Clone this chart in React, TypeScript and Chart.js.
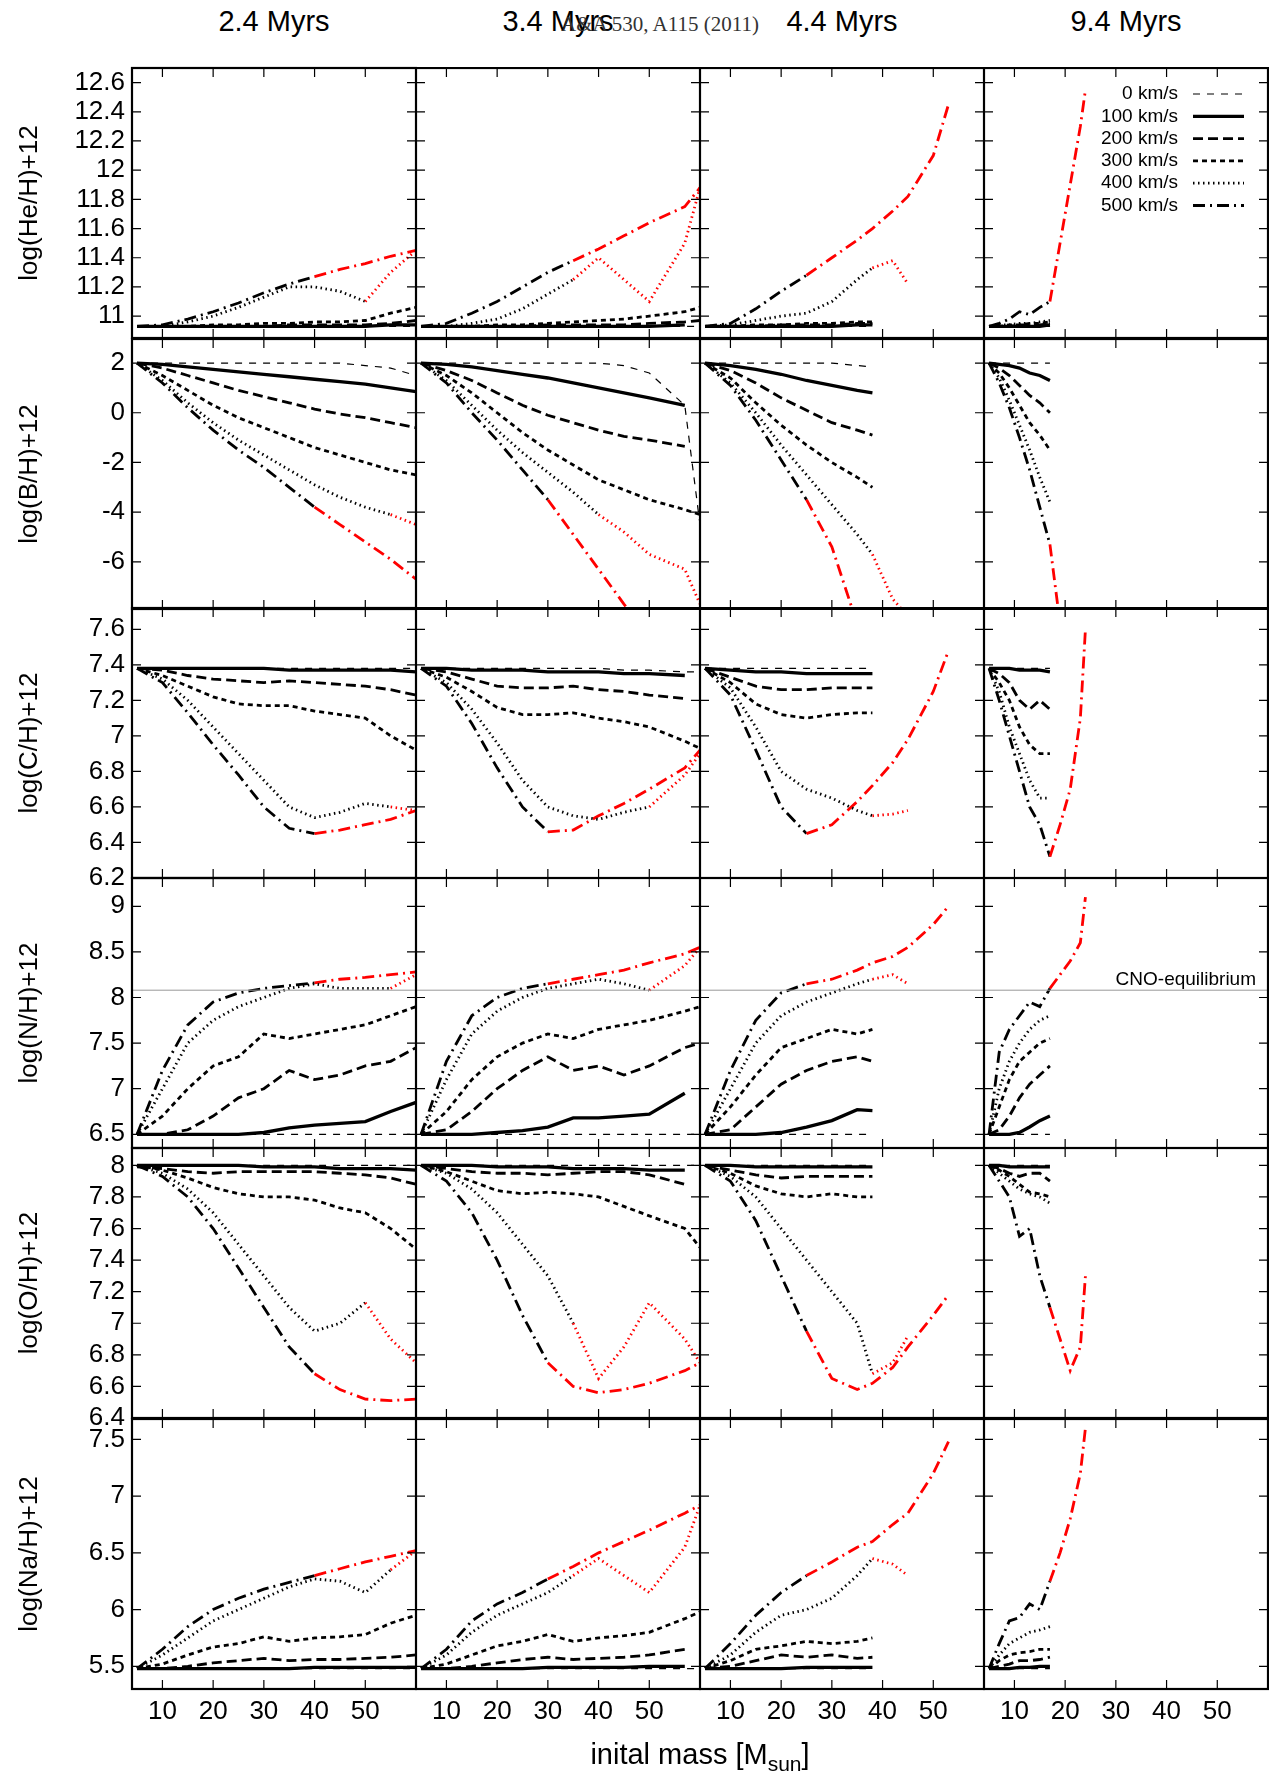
import { useEffect, useRef } from 'react';
import { Chart, registerables } from 'chart.js';

Chart.register(...registerables);

const columnTitles = ['2.4 Myrs', '3.4 Myrs', '4.4 Myrs', '9.4 Myrs'];
const rowLabels = ['log(He/H)+12', 'log(B/H)+12', 'log(C/H)+12', 'log(N/H)+12', 'log(O/H)+12', 'log(Na/H)+12'];
const rowMin = [10.85, -7.9, 6.2, 6.35, 6.4, 5.3];
const rowMax = [12.7, 2.97, 7.72, 9.31, 8.11, 7.68];
const rowTicks = [
  [11, 11.2, 11.4, 11.6, 11.8, 12, 12.2, 12.4, 12.6],
  [-6, -4, -2, 0, 2],
  [6.2, 6.4, 6.6, 6.8, 7, 7.2, 7.4, 7.6],
  [6.5, 7, 7.5, 8, 8.5, 9],
  [6.4, 6.6, 6.8, 7, 7.2, 7.4, 7.6, 7.8, 8],
  [5.5, 6, 6.5, 7, 7.5],
];
const xTicks = [10, 20, 30, 40, 50];
const velocities = ['0 km/s', '100 km/s', '200 km/s', '300 km/s', '400 km/s', '500 km/s'];
const cnoEquilibrium = 8.08;

// initial masses sampled per age column
const massGrids = [
  [5, 10, 15, 20, 25, 30, 35, 40, 45, 50, 55, 60],
  [5, 10, 15, 20, 25, 30, 35, 40, 45, 50, 57, 60],
  [5, 10, 15, 20, 25, 30, 35, 38, 42, 45, 50, 53],
  [5, 7, 9, 11, 13, 15, 17, 19, 21, 23, 24],
];

// [column][velocity] -> values
const heData = [
  [
    [10.93, 10.93, 10.93, 10.93, 10.93, 10.93, 10.93, 10.93, 10.93, 10.93, 10.93, 10.93],
    [10.93, 10.93, 10.93, 10.93, 10.93, 10.93, 10.93, 10.93, 10.93, 10.93, 10.94, 10.94],
    [10.93, 10.93, 10.93, 10.93, 10.93, 10.93, 10.94, 10.94, 10.94, 10.94, 10.95, 10.97],
    [10.93, 10.93, 10.93, 10.94, 10.94, 10.95, 10.95, 10.96, 10.96, 10.97, 11.02, 11.06],
    [10.93, 10.93, 10.96, 11.0, 11.06, 11.13, 11.2, 11.2, 11.17, 11.1, 11.3, 11.45],
    [10.93, 10.94, 10.98, 11.03, 11.09, 11.16, 11.22, 11.27, 11.32, 11.36, 11.41, 11.45],
  ],
  [
    [10.93, 10.93, 10.93, 10.93, 10.93, 10.93, 10.93, 10.93, 10.93, 10.93, 10.93, 10.93],
    [10.93, 10.93, 10.93, 10.93, 10.93, 10.93, 10.93, 10.93, 10.93, 10.93, 10.94],
    [10.93, 10.93, 10.93, 10.93, 10.93, 10.94, 10.94, 10.94, 10.94, 10.95, 10.96, 10.97],
    [10.93, 10.93, 10.93, 10.94, 10.94, 10.95, 10.96, 10.97, 10.98, 11.0, 11.03, 11.06],
    [10.93, 10.93, 10.95, 10.98, 11.05, 11.15, 11.25, 11.4, 11.25, 11.1, 11.5, 11.88],
    [10.93, 10.95, 11.02, 11.1, 11.2, 11.3, 11.38, 11.46, 11.55, 11.64, 11.75, 11.88],
  ],
  [
    [10.93, 10.93, 10.93, 10.93, 10.93, 10.93, 10.93, 10.93],
    [10.93, 10.93, 10.93, 10.93, 10.93, 10.93, 10.94, 10.94],
    [10.93, 10.93, 10.93, 10.94, 10.94, 10.94, 10.95, 10.95],
    [10.93, 10.93, 10.94, 10.94, 10.95, 10.95, 10.96, 10.96],
    [10.93, 10.94, 10.97, 11.0, 11.02, 11.1, 11.25, 11.33, 11.38, 11.22],
    [10.93, 10.95, 11.05, 11.17, 11.28, 11.4, 11.52, 11.6, 11.72, 11.82, 12.1, 12.45],
  ],
  [
    [10.93, 10.93, 10.93, 10.93, 10.93, 10.93, 10.93],
    [10.93, 10.93, 10.93, 10.93, 10.93, 10.93, 10.94],
    [10.93, 10.93, 10.93, 10.94, 10.94, 10.94, 10.95],
    [10.93, 10.93, 10.94, 10.94, 10.95, 10.95, 10.96],
    [10.93, 10.94, 10.94, 10.95, 10.95, 10.96, 10.97],
    [10.93, 10.95, 10.98, 11.03, 11.01, 11.06, 11.1, 11.5, 11.9, 12.3, 12.55],
  ],
];

const bData = [
  [
    [2, 2, 2, 2, 2, 2, 2, 2, 2, 1.9, 1.8, 1.5],
    [2, 1.95, 1.85, 1.75, 1.65, 1.55, 1.45, 1.35, 1.25, 1.15, 1.0, 0.85],
    [2, 1.8, 1.5, 1.2, 0.9, 0.65, 0.4, 0.15, -0.05, -0.2, -0.4, -0.6],
    [2, 1.5, 0.9, 0.3, -0.2, -0.6, -1.0, -1.4, -1.7, -2.0, -2.3, -2.5],
    [2, 1.3, 0.4, -0.4, -1.1, -1.7, -2.3, -2.9, -3.4, -3.8, -4.1, -4.5],
    [2, 1.2, 0.2, -0.7, -1.5, -2.2, -3.0, -3.8, -4.5, -5.2, -5.9, -6.7],
  ],
  [
    [2, 2, 2, 2, 2, 2, 2, 2, 1.9, 1.6, 0.3, -4.5],
    [2, 1.95, 1.85, 1.7, 1.55, 1.4, 1.2, 1.0, 0.8, 0.6, 0.3],
    [2, 1.7, 1.3, 0.8, 0.3, -0.1, -0.4, -0.7, -0.95, -1.1, -1.35],
    [2, 1.5, 0.8, 0.0, -0.8, -1.5, -2.1, -2.7, -3.1, -3.5, -3.9, -4.1],
    [2, 1.3, 0.3, -0.7, -1.6, -2.4, -3.2, -4.1, -4.8, -5.7, -6.3, -7.7],
    [2, 1.2, 0.0, -1.1, -2.3, -3.5, -4.9, -6.3, -7.7, -9.0],
  ],
  [
    [2, 2, 2, 2, 2, 2, 1.9, 1.85],
    [2, 1.9, 1.75, 1.55, 1.3, 1.1, 0.9, 0.8],
    [2, 1.7, 1.2, 0.6, 0.1, -0.4, -0.7, -0.9],
    [2, 1.4, 0.4, -0.5, -1.3, -2.0, -2.6, -3.0],
    [2, 1.2, 0.0, -1.3, -2.5, -3.7, -4.9, -5.7, -7.5, -8.2],
    [2, 1.1, -0.3, -1.9, -3.5, -5.4, -8.5],
  ],
  [
    [2, 2, 2, 2, 2, 2, 2],
    [2, 1.95, 1.9, 1.8, 1.6, 1.5, 1.3],
    [2, 1.8, 1.5, 1.1, 0.7, 0.4, 0.0],
    [2, 1.6, 1.0, 0.3, -0.4, -0.9, -1.5],
    [2, 1.4, 0.5, -0.5, -1.5, -2.6, -3.6],
    [2, 1.2, 0.2, -1.0, -2.3, -3.8, -5.3, -8.5],
  ],
];

const cData = [
  [
    [7.38, 7.38, 7.38, 7.38, 7.38, 7.38, 7.38, 7.38, 7.38, 7.38, 7.38, 7.38],
    [7.38, 7.38, 7.38, 7.38, 7.38, 7.38, 7.37, 7.37, 7.37, 7.37, 7.37, 7.36],
    [7.38, 7.37, 7.34, 7.32, 7.31, 7.3, 7.31, 7.3, 7.29, 7.28, 7.26, 7.23],
    [7.38, 7.34, 7.28, 7.22, 7.18, 7.17, 7.17, 7.14, 7.12, 7.1, 7.0, 6.92],
    [7.38, 7.32, 7.2, 7.05, 6.9, 6.75, 6.6, 6.54, 6.57, 6.62, 6.6, 6.58],
    [7.38, 7.3, 7.13, 6.95, 6.78, 6.6, 6.48, 6.45, 6.47, 6.5, 6.53, 6.58],
  ],
  [
    [7.38, 7.38, 7.38, 7.38, 7.38, 7.38, 7.38, 7.38, 7.37, 7.37, 7.36, 7.36],
    [7.38, 7.38, 7.37, 7.37, 7.37, 7.36, 7.36, 7.36, 7.35, 7.35, 7.34],
    [7.38, 7.36, 7.32, 7.28, 7.27, 7.27, 7.28, 7.26, 7.25, 7.23, 7.21],
    [7.38, 7.33, 7.25, 7.16, 7.12, 7.12, 7.13, 7.1, 7.08, 7.05, 6.97, 6.93],
    [7.38, 7.3, 7.15, 6.96, 6.75, 6.6, 6.55, 6.53, 6.57, 6.6, 6.78, 6.9],
    [7.38, 7.28, 7.07, 6.82, 6.6, 6.46, 6.47, 6.55, 6.62, 6.7, 6.82, 6.92],
  ],
  [
    [7.38, 7.38, 7.38, 7.38, 7.38, 7.38, 7.38, 7.38],
    [7.38, 7.37, 7.36, 7.36, 7.35, 7.35, 7.35, 7.35],
    [7.38, 7.33, 7.28, 7.26, 7.26, 7.27, 7.27, 7.27],
    [7.38, 7.3, 7.18, 7.12, 7.1, 7.12, 7.13, 7.13],
    [7.38, 7.27, 7.05, 6.8, 6.7, 6.65, 6.58, 6.55, 6.56, 6.58],
    [7.38, 7.23, 6.92, 6.6, 6.45, 6.5, 6.63, 6.72, 6.85, 6.98, 7.25, 7.48],
  ],
  [
    [7.38, 7.38, 7.38, 7.38, 7.38, 7.38, 7.38],
    [7.38, 7.38, 7.38, 7.37, 7.37, 7.37, 7.36],
    [7.38, 7.35, 7.3, 7.2, 7.15, 7.2, 7.15],
    [7.38, 7.3, 7.2, 7.05, 6.95, 6.9, 6.9],
    [7.38, 7.25, 7.05, 6.9, 6.75, 6.65, 6.65],
    [7.38, 7.2, 7.0, 6.8, 6.6, 6.5, 6.32, 6.5, 6.7, 7.1, 7.6],
  ],
];

const nData = [
  [
    [6.5, 6.5, 6.5, 6.5, 6.5, 6.5, 6.5, 6.5, 6.5, 6.5, 6.5, 6.5],
    [6.5, 6.5, 6.5, 6.5, 6.5, 6.52, 6.57, 6.6, 6.62, 6.64, 6.75, 6.85],
    [6.5, 6.5, 6.55, 6.7, 6.9, 7.0, 7.2, 7.1, 7.15, 7.25, 7.3, 7.45],
    [6.5, 6.7, 7.0, 7.25, 7.35, 7.6, 7.55, 7.6, 7.65, 7.7, 7.8, 7.9],
    [6.5, 7.0, 7.5, 7.75, 7.9, 8.0, 8.1, 8.15, 8.1, 8.1, 8.1, 8.25],
    [6.5, 7.2, 7.7, 7.95, 8.05, 8.1, 8.13, 8.16, 8.2, 8.22, 8.25, 8.28],
  ],
  [
    [6.5, 6.5, 6.5, 6.5, 6.5, 6.5, 6.5, 6.5, 6.5, 6.5, 6.5, 6.5],
    [6.5, 6.5, 6.5, 6.52, 6.54, 6.58, 6.68, 6.68, 6.7, 6.72, 6.95],
    [6.5, 6.55, 6.75, 7.0, 7.2, 7.35, 7.2, 7.25, 7.15, 7.25, 7.45, 7.5],
    [6.5, 6.75, 7.1, 7.35, 7.5, 7.6, 7.55, 7.65, 7.7, 7.75, 7.85, 7.9],
    [6.5, 7.1, 7.6, 7.85, 8.0, 8.1, 8.15, 8.2, 8.15, 8.08, 8.35, 8.55],
    [6.5, 7.3, 7.8, 8.0, 8.1, 8.15, 8.2, 8.25, 8.3, 8.38, 8.48, 8.55],
  ],
  [
    [6.5, 6.5, 6.5, 6.5, 6.5, 6.5, 6.5, 6.5],
    [6.5, 6.5, 6.5, 6.52, 6.58, 6.65, 6.77, 6.76],
    [6.5, 6.55, 6.8, 7.05, 7.2, 7.3, 7.35, 7.3],
    [6.5, 6.8, 7.15, 7.45, 7.55, 7.65, 7.6, 7.65],
    [6.5, 7.0, 7.5, 7.8, 7.95, 8.05, 8.15, 8.2, 8.25, 8.15],
    [6.5, 7.2, 7.75, 8.05, 8.15, 8.2, 8.3, 8.38, 8.45, 8.55, 8.8, 9.0],
  ],
  [
    [6.5, 6.5, 6.5, 6.5, 6.5, 6.5, 6.5],
    [6.5, 6.5, 6.5, 6.52, 6.58, 6.65, 6.7],
    [6.5, 6.55, 6.7, 6.9, 7.05, 7.15, 7.25],
    [6.5, 6.8, 7.1, 7.3, 7.4, 7.5, 7.55],
    [6.5, 7.0, 7.3, 7.5, 7.65, 7.75, 7.8],
    [6.5, 7.4, 7.65, 7.8, 7.95, 7.9, 8.1, 8.25, 8.4, 8.6, 9.1],
  ],
];

const oData = [
  [
    [8.0, 8.0, 8.0, 8.0, 8.0, 8.0, 8.0, 8.0, 8.0, 8.0, 8.0, 8.0],
    [8.0, 8.0, 8.0, 8.0, 8.0, 7.99, 7.99, 7.99, 7.98, 7.98, 7.98, 7.97],
    [7.99, 7.98, 7.96, 7.95, 7.96, 7.96, 7.96, 7.96, 7.95, 7.94, 7.92, 7.88],
    [8.0, 7.97, 7.92, 7.86, 7.82, 7.8, 7.8, 7.78, 7.73, 7.7, 7.6, 7.47],
    [8.0, 7.95, 7.85, 7.7, 7.5, 7.3, 7.1, 6.95, 7.0, 7.13, 6.9, 6.75],
    [8.0, 7.93, 7.8, 7.6, 7.35, 7.1, 6.85, 6.68, 6.58, 6.52, 6.51, 6.52],
  ],
  [
    [8.0, 8.0, 8.0, 8.0, 8.0, 8.0, 8.0, 8.0, 8.0, 8.0, 8.0, 8.0],
    [8.0, 8.0, 8.0, 7.99, 7.99, 7.99, 7.98, 7.98, 7.98, 7.97, 7.97],
    [8.0, 7.98, 7.96, 7.95, 7.95, 7.94, 7.95, 7.96, 7.96, 7.94, 7.88],
    [8.0, 7.96, 7.9, 7.84, 7.82, 7.83, 7.82, 7.8, 7.74, 7.68, 7.6, 7.48],
    [8.0, 7.95, 7.85, 7.7, 7.5, 7.3, 7.0, 6.65, 6.85, 7.13, 6.9, 6.75],
    [8.0, 7.9, 7.7, 7.4, 7.05, 6.75, 6.6, 6.56, 6.58, 6.62, 6.7, 6.75],
  ],
  [
    [8.0, 8.0, 8.0, 8.0, 8.0, 8.0, 8.0, 8.0],
    [8.0, 8.0, 7.99, 7.99, 7.99, 7.99, 7.99, 7.99],
    [8.0, 7.97, 7.94, 7.92, 7.93, 7.93, 7.93, 7.93],
    [8.0, 7.95, 7.87, 7.82, 7.8, 7.82, 7.8, 7.8],
    [8.0, 7.93, 7.8, 7.6, 7.4, 7.2, 7.0, 6.68, 6.75, 6.92],
    [8.0, 7.9, 7.65, 7.3, 6.95, 6.65, 6.58, 6.62, 6.72, 6.85, 7.05, 7.18],
  ],
  [
    [8.0, 8.0, 8.0, 8.0, 8.0, 8.0, 8.0],
    [8.0, 8.0, 7.99, 7.99, 7.99, 7.99, 7.99],
    [8.0, 7.98, 7.95, 7.93, 7.95, 7.95, 7.9],
    [8.0, 7.97, 7.93, 7.88, 7.83, 7.82, 7.8],
    [8.0, 7.95, 7.9, 7.85, 7.82, 7.8, 7.76],
    [8.0, 7.9, 7.8, 7.55, 7.6, 7.3, 7.1, 6.9, 6.7, 6.85, 7.3],
  ],
];

const naData = [
  [
    [5.48, 5.48, 5.48, 5.48, 5.48, 5.48, 5.48, 5.48, 5.48, 5.48, 5.48, 5.48],
    [5.48, 5.48, 5.48, 5.48, 5.48, 5.48, 5.48, 5.49, 5.49, 5.49, 5.49, 5.49],
    [5.48, 5.48, 5.5, 5.53, 5.55, 5.57, 5.55, 5.56, 5.56, 5.57, 5.58, 5.6],
    [5.48, 5.52, 5.6, 5.67, 5.7, 5.76, 5.72, 5.75, 5.76, 5.78, 5.88, 5.95],
    [5.48, 5.6, 5.75, 5.9, 6.0, 6.1, 6.2, 6.27, 6.25, 6.15, 6.35, 6.52],
    [5.48, 5.65, 5.85, 6.0, 6.1, 6.18, 6.24, 6.3, 6.36, 6.42, 6.47, 6.52],
  ],
  [
    [5.48, 5.48, 5.48, 5.48, 5.48, 5.48, 5.48, 5.48, 5.48, 5.48, 5.48, 5.48],
    [5.48, 5.48, 5.48, 5.48, 5.48, 5.49, 5.49, 5.49, 5.49, 5.5, 5.5],
    [5.48, 5.48, 5.5, 5.53, 5.56, 5.58, 5.56, 5.57, 5.58, 5.6, 5.65],
    [5.48, 5.52, 5.6, 5.68, 5.72, 5.78, 5.72, 5.75, 5.77, 5.8, 5.92, 5.98],
    [5.48, 5.6, 5.8, 5.95, 6.05, 6.15, 6.3, 6.45, 6.3, 6.15, 6.55, 6.92],
    [5.48, 5.65, 5.9, 6.05, 6.15, 6.27, 6.38, 6.5, 6.6, 6.7, 6.85, 6.92],
  ],
  [
    [5.48, 5.48, 5.48, 5.48, 5.48, 5.48, 5.48, 5.48],
    [5.48, 5.48, 5.48, 5.48, 5.49, 5.49, 5.49, 5.49],
    [5.48, 5.5, 5.55, 5.6, 5.58, 5.6, 5.57, 5.58],
    [5.48, 5.55, 5.65, 5.68, 5.72, 5.7, 5.72, 5.75],
    [5.48, 5.6, 5.8, 5.95, 6.0, 6.1, 6.3, 6.45, 6.4, 6.3],
    [5.48, 5.7, 5.95, 6.15, 6.3, 6.42, 6.55, 6.6, 6.75, 6.85, 7.2, 7.48],
  ],
  [
    [5.48, 5.48, 5.48, 5.48, 5.48, 5.48, 5.48],
    [5.48, 5.48, 5.48, 5.49, 5.49, 5.5, 5.5],
    [5.48, 5.5, 5.52, 5.55, 5.55, 5.56, 5.58],
    [5.48, 5.55, 5.6, 5.62, 5.63, 5.65, 5.65],
    [5.48, 5.6, 5.7, 5.75, 5.8, 5.82, 5.85],
    [5.48, 5.7, 5.9, 5.93, 6.05, 6.0, 6.25, 6.5, 6.8, 7.2, 7.6],
  ],
];

const rowData = [heData, bData, cData, nData, oData, naData];

// mass from which the 400 / 500 km/s curves turn red, [row][column]
const redFrom400 = [
  [50, 35, 38, null], [55, 40, 38, null], [55, 50, 38, null],
  [55, 50, 38, null], [50, 35, 38, null], [55, 35, 38, null],
];
const redFrom500 = [
  [40, 35, 25, 17], [40, 30, 25, 17], [40, 30, 25, 17],
  [40, 30, 25, 17], [40, 30, 25, 17], [40, 30, 25, 17],
];

const lineStyles = [
  { width: 1.2, dash: [7, 7] },
  { width: 3.3, dash: [] },
  { width: 2.8, dash: [10, 5] },
  { width: 2.8, dash: [5, 4] },
  { width: 2.8, dash: [1.5, 3.5] },
  { width: 2.8, dash: [12, 5, 2, 5] },
];

const colLeft = [132, 416, 700, 984];
const rowTop = [68, 339, 608, 878, 1148, 1419];
const panelW = 284;
const panelH = 270;
const yAxisW = 125;
const xAxisH = 60;
const labelMargin = 16; // room above/below the first column for end tick labels
const FONT = '"Liberation Sans", Arial, sans-serif';

function Panel({ row, col }: { row: number; col: number }) {
  const canvasRef = useRef<HTMLCanvasElement>(null);
  const chartRef = useRef<Chart | null>(null);
  const first = col === 0;
  const bottom = row === 5;
  const padTop = 1 + (first ? labelMargin : 0);
  const padBottom = 1 + (bottom ? xAxisH : first ? labelMargin : 0);
  const w = panelW + (first ? yAxisW : 0) + 2;
  const h = panelH + padTop + padBottom;
  const left = colLeft[col] - (first ? yAxisW : 0) - 1;
  const top = rowTop[row] - padTop;

  useEffect(() => {
    if (!canvasRef.current) return;
    if (chartRef.current) chartRef.current.destroy();
    const grid = massGrids[col];
    const datasets: any[] = rowData[row][col].map((vals, v) => {
      const red = v === 4 ? redFrom400[row][col] : v === 5 ? redFrom500[row][col] : null;
      return {
        data: vals.map((y, i) => ({ x: grid[i], y })),
        borderColor: '#000',
        borderWidth: lineStyles[v].width,
        borderDash: lineStyles[v].dash,
        pointRadius: 0,
        tension: 0,
        segment: {
          borderColor: (c: any) => (red !== null && c.p0.parsed.x >= red - 0.01 ? '#ff0000' : '#000'),
        },
      };
    });
    if (row === 3) {
      datasets.unshift({
        data: [{ x: 0, y: cnoEquilibrium }, { x: 70, y: cnoEquilibrium }],
        borderColor: '#999',
        borderWidth: 1,
        pointRadius: 0,
      });
    }

    const decor = {
      id: 'decor',
      afterDatasetsDraw(chart: any) {
        const { ctx, chartArea: a } = chart;
        const xs = chart.scales.x;
        const ys = chart.scales.y;
        ctx.save();
        ctx.fillStyle = '#000';
        if (first) {
          ctx.font = `26px ${FONT}`;
          ctx.textAlign = 'right';
          ctx.textBaseline = 'middle';
          rowTicks[row].forEach((t) => ctx.fillText(String(t), a.left - 7, ys.getPixelForValue(t)));
          ctx.save();
          ctx.translate(24, (a.top + a.bottom) / 2);
          ctx.rotate(-Math.PI / 2);
          ctx.textAlign = 'center';
          ctx.fillText(rowLabels[row], 0, 0);
          ctx.restore();
        }
        if (bottom) {
          ctx.font = `26px ${FONT}`;
          ctx.textAlign = 'center';
          ctx.textBaseline = 'top';
          xTicks.forEach((t) => ctx.fillText(String(t), xs.getPixelForValue(t), a.bottom + 10));
        }
        if (row === 3 && col === 3) {
          ctx.font = `19px ${FONT}`;
          ctx.textAlign = 'right';
          ctx.textBaseline = 'bottom';
          ctx.fillText('CNO-equilibrium', a.right - 12, ys.getPixelForValue(cnoEquilibrium) - 1);
        }
        if (row === 0 && col === 3) {
          ctx.font = `19px ${FONT}`;
          ctx.textAlign = 'right';
          ctx.textBaseline = 'middle';
          velocities.forEach((label, i) => {
            const y = a.top + 26 + i * 22.3;
            ctx.fillText(label, a.left + 194, y);
            ctx.strokeStyle = '#000';
            ctx.lineWidth = lineStyles[i].width;
            ctx.setLineDash(lineStyles[i].dash);
            ctx.beginPath();
            ctx.moveTo(a.left + 209, y);
            ctx.lineTo(a.left + 260, y);
            ctx.stroke();
          });
          ctx.setLineDash([]);
        }
        // inward tick marks
        ctx.strokeStyle = '#000';
        ctx.lineWidth = 1.2;
        ctx.beginPath();
        rowTicks[row].forEach((t) => {
          const y = ys.getPixelForValue(t);
          ctx.moveTo(a.left, y); ctx.lineTo(a.left + 9, y);
          ctx.moveTo(a.right, y); ctx.lineTo(a.right - 9, y);
        });
        xTicks.forEach((t) => {
          const x = xs.getPixelForValue(t);
          ctx.moveTo(x, a.bottom); ctx.lineTo(x, a.bottom - 9);
          ctx.moveTo(x, a.top); ctx.lineTo(x, a.top + 9);
        });
        ctx.stroke();
        ctx.lineWidth = 2.2;
        ctx.strokeRect(a.left, a.top, a.right - a.left, a.bottom - a.top);
        ctx.restore();
      },
    };

    chartRef.current = new Chart(canvasRef.current, {
      type: 'line',
      data: { datasets },
      options: {
        animation: false,
        responsive: false,
        layout: {
          padding: { left: 1 + (first ? yAxisW : 0), right: 1, top: padTop, bottom: padBottom },
        },
        plugins: { legend: { display: false }, tooltip: { enabled: false } },
        scales: {
          x: { type: 'linear', min: 4, max: 60, display: false },
          y: { type: 'linear', min: rowMin[row], max: rowMax[row], display: false },
        },
      },
      plugins: [decor],
    });

    return () => {
      if (chartRef.current) chartRef.current.destroy();
      chartRef.current = null;
    };
  }, [row, col]);

  return (
    <canvas
      ref={canvasRef}
      width={w}
      height={h}
      style={{ position: 'absolute', left, top, width: w, height: h }}
    />
  );
}

export default function App() {
  const panels = [];
  for (let r = 0; r < 6; r++) for (let c = 0; c < 4; c++) panels.push(<Panel key={`${r}-${c}`} row={r} col={c} />);
  return (
    <div style={{ position: 'absolute', left: 0, top: 0, width: 1271, height: 1787, background: '#fff', fontFamily: FONT }}>
      {columnTitles.map((t, i) => (
        <div key={t} style={{ position: 'absolute', left: colLeft[i], width: panelW, top: 5, textAlign: 'center', fontSize: 29 }}>
          {t}
        </div>
      ))}
      <div style={{ position: 'absolute', left: 500, width: 320, top: 12, textAlign: 'center', fontSize: 21, fontFamily: '"Liberation Serif", serif', color: '#333' }}>
        A&amp;A 530, A115 (2011)
      </div>
      {panels}
      <div style={{ position: 'absolute', left: 132, width: 1136, top: 1738, textAlign: 'center', fontSize: 29 }}>
        inital mass [M<sub style={{ fontSize: 21 }}>sun</sub>]
      </div>
    </div>
  );
}
